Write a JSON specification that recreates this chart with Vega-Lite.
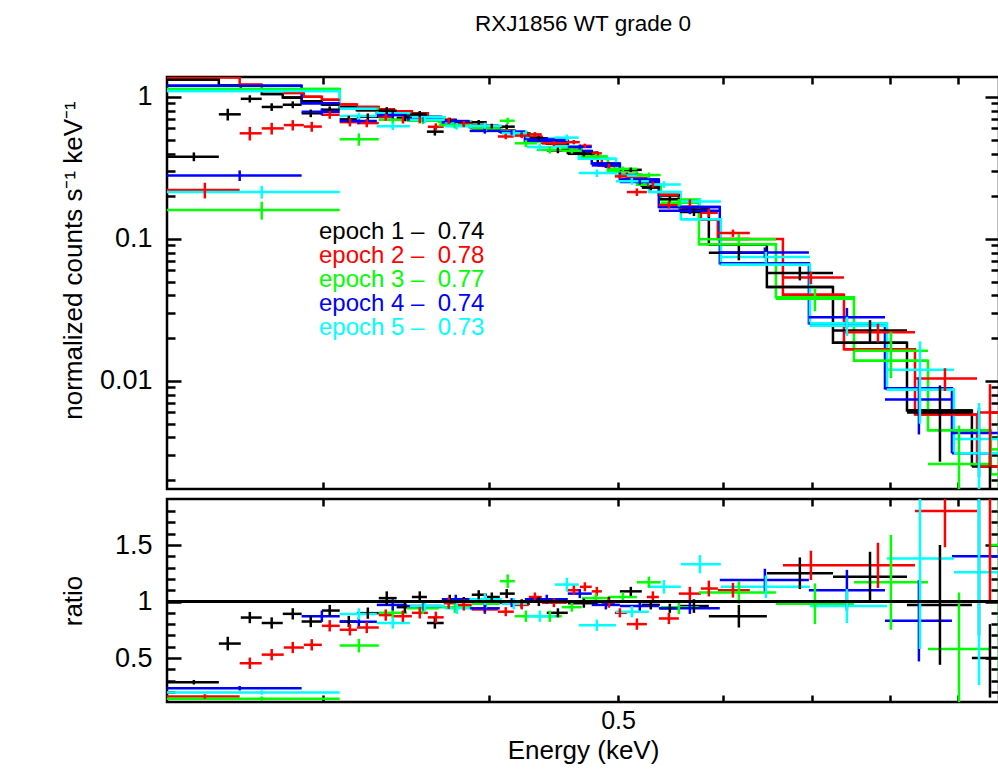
{
"$schema": "https://vega.github.io/schema/vega-lite/v6.json",
"background": "white",
"padding": {"left": 58, "top": 13, "right": 0, "bottom": 0},
"title": {"text": "RXJ1856 WT grade 0", "fontSize": 22.5, "font": "Liberation Sans", "fontWeight": "normal", "color": "black", "anchor": "middle", "frame": "group", "offset": 39},
"spacing": 0,
"resolve": {"scale": {"color": "independent"}, "legend": {"color": "independent"}},
"datasets": {"spec": [
{"ep":"epoch 1","lo":0.2291,"hi":0.2506,"e":0.2400,"m":1.33,"y":0.380,"y1":0.353,"y2":0.407,"r":0.286,"r1":0.266,"r2":0.306},
{"ep":"epoch 1","lo":0.2506,"hi":0.2603,"e":0.2545,"m":1.202,"y":0.755,"y1":0.683,"y2":0.827,"r":0.628,"r1":0.568,"r2":0.688},
{"ep":"epoch 1","lo":0.2603,"hi":0.2699,"e":0.2644,"m":1.132,"y":0.971,"y1":0.914,"y2":1.028,"r":0.858,"r1":0.808,"r2":0.908},
{"ep":"epoch 1","lo":0.2699,"hi":0.2799,"e":0.2746,"m":1.05,"y":0.851,"y1":0.798,"y2":0.903,"r":0.81,"r1":0.76,"r2":0.86},
{"ep":"epoch 1","lo":0.2799,"hi":0.2892,"e":0.2848,"m":0.99,"y":0.882,"y1":0.833,"y2":0.932,"r":0.891,"r1":0.841,"r2":0.941},
{"ep":"epoch 1","lo":0.2892,"hi":0.2995,"e":0.2938,"m":0.933,"y":0.768,"y1":0.721,"y2":0.815,"r":0.823,"r1":0.773,"r2":0.873},
{"ep":"epoch 1","lo":0.2995,"hi":0.3089,"e":0.3036,"m":0.885,"y":0.814,"y1":0.770,"y2":0.858,"r":0.92,"r1":0.87,"r2":0.97},
{"ep":"epoch 1","lo":0.3089,"hi":0.3182,"e":0.3138,"m":0.846,"y":0.696,"y1":0.654,"y2":0.738,"r":0.823,"r1":0.773,"r2":0.873},
{"ep":"epoch 1","lo":0.3182,"hi":0.3305,"e":0.3243,"m":0.808,"y":0.725,"y1":0.685,"y2":0.765,"r":0.897,"r1":0.847,"r2":0.947},
{"ep":"epoch 1","lo":0.3305,"hi":0.3409,"e":0.3351,"m":0.778,"y":0.801,"y1":0.754,"y2":0.848,"r":1.03,"r1":0.97,"r2":1.09},
{"ep":"epoch 1","lo":0.3409,"hi":0.3500,"e":0.3458,"m":0.75,"y":0.713,"y1":0.675,"y2":0.75,"r":0.95,"r1":0.90,"r2":1.0},
{"ep":"epoch 1","lo":0.3500,"hi":0.3592,"e":0.3548,"m":0.73,"y":0.759,"y1":0.722,"y2":0.796,"r":1.04,"r1":0.99,"r2":1.09},
{"ep":"epoch 1","lo":0.3592,"hi":0.3698,"e":0.3642,"m":0.704,"y":0.570,"y1":0.535,"y2":0.605,"r":0.81,"r1":0.76,"r2":0.86},
{"ep":"epoch 1","lo":0.3698,"hi":0.3783,"e":0.3737,"m":0.674,"y":0.687,"y1":0.66,"y2":0.714,"r":1.02,"r1":0.98,"r2":1.06},
{"ep":"epoch 1","lo":0.3783,"hi":0.3882,"e":0.3829,"m":0.653,"y":0.653,"y1":0.627,"y2":0.679,"r":1.0,"r1":0.96,"r2":1.04},
{"ep":"epoch 1","lo":0.3882,"hi":0.3984,"e":0.3929,"m":0.626,"y":0.664,"y1":0.639,"y2":0.689,"r":1.06,"r1":1.02,"r2":1.10},
{"ep":"epoch 1","lo":0.3984,"hi":0.4075,"e":0.4019,"m":0.60,"y":0.624,"y1":0.60,"y2":0.648,"r":1.04,"r1":1.0,"r2":1.08},
{"ep":"epoch 1","lo":0.4075,"hi":0.4182,"e":0.4124,"m":0.578,"y":0.618,"y1":0.595,"y2":0.641,"r":1.07,"r1":1.03,"r2":1.11},
{"ep":"epoch 1","lo":0.4182,"hi":0.4292,"e":0.4233,"m":0.552,"y":0.541,"y1":0.519,"y2":0.563,"r":0.98,"r1":0.94,"r2":1.02},
{"ep":"epoch 1","lo":0.4292,"hi":0.4420,"e":0.4360,"m":0.512,"y":0.512,"y1":0.492,"y2":0.532,"r":1.0,"r1":0.96,"r2":1.04},
{"ep":"epoch 1","lo":0.4420,"hi":0.4584,"e":0.4506,"m":0.468,"y":0.421,"y1":0.402,"y2":0.44,"r":0.9,"r1":0.86,"r2":0.94},
{"ep":"epoch 1","lo":0.4584,"hi":0.4828,"e":0.4713,"m":0.404,"y":0.398,"y1":0.382,"y2":0.414,"r":0.985,"r1":0.945,"r2":1.025},
{"ep":"epoch 1","lo":0.4828,"hi":0.5016,"e":0.4922,"m":0.332,"y":0.332,"y1":0.319,"y2":0.345,"r":1.0,"r1":0.96,"r2":1.04},
{"ep":"epoch 1","lo":0.5016,"hi":0.5210,"e":0.5112,"m":0.282,"y":0.307,"y1":0.296,"y2":0.318,"r":1.09,"r1":1.05,"r2":1.13},
{"ep":"epoch 1","lo":0.5210,"hi":0.5375,"e":0.5292,"m":0.237,"y":0.230,"y1":0.2205,"y2":0.2395,"r":0.97,"r1":0.93,"r2":1.01},
{"ep":"epoch 1","lo":0.5375,"hi":0.5565,"e":0.5469,"m":0.203,"y":0.191,"y1":0.183,"y2":0.199,"r":0.94,"r1":0.90,"r2":0.98},
{"ep":"epoch 1","lo":0.5565,"hi":0.5851,"e":0.5702,"m":0.161,"y":0.155,"y1":0.145,"y2":0.164,"r":0.96,"r1":0.90,"r2":1.02},
{"ep":"epoch 1","lo":0.5851,"hi":0.6469,"e":0.6163,"m":0.092,"y":0.080,"y1":0.0708,"y2":0.0892,"r":0.87,"r1":0.77,"r2":0.97},
{"ep":"epoch 1","lo":0.6469,"hi":0.7253,"e":0.6849,"m":0.046,"y":0.0575,"y1":0.0511,"y2":0.0639,"r":1.25,"r1":1.11,"r2":1.39},
{"ep":"epoch 1","lo":0.7253,"hi":0.8244,"e":0.7733,"m":0.0186,"y":0.0227,"y1":0.0186,"y2":0.0268,"r":1.22,"r1":1.0,"r2":1.44},
{"ep":"epoch 1","lo":0.8244,"hi":0.9224,"e":0.8728,"m":0.0062,"y":0.0060,"y1":0.0027,"y2":0.0093,"r":0.97,"r1":0.44,"r2":1.5},
{"ep":"epoch 1","lo":0.9224,"hi":0.9853,"e":0.9517,"m":0.0025,"y":0.0016,"y1":0.0005,"y2":0.0030,"r":0.5,"r1":0.15,"r2":0.8},
{"ep":"epoch 2","lo":0.2291,"hi":0.2598,"e":0.2446,"m":1.38,"y":0.221,"y1":0.193,"y2":0.249,"r":0.16,"r1":0.14,"r2":0.18},
{"ep":"epoch 2","lo":0.2598,"hi":0.2699,"e":0.2644,"m":1.222,"y":0.555,"y1":0.494,"y2":0.616,"r":0.454,"r1":0.404,"r2":0.504},
{"ep":"epoch 2","lo":0.2699,"hi":0.2804,"e":0.2746,"m":1.134,"y":0.601,"y1":0.544,"y2":0.658,"r":0.53,"r1":0.48,"r2":0.58},
{"ep":"epoch 2","lo":0.2804,"hi":0.2903,"e":0.2848,"m":1.069,"y":0.634,"y1":0.581,"y2":0.687,"r":0.593,"r1":0.543,"r2":0.643},
{"ep":"epoch 2","lo":0.2903,"hi":0.2995,"e":0.2943,"m":1.004,"y":0.619,"y1":0.569,"y2":0.669,"r":0.617,"r1":0.567,"r2":0.667},
{"ep":"epoch 2","lo":0.2995,"hi":0.3089,"e":0.3036,"m":0.956,"y":0.750,"y1":0.702,"y2":0.798,"r":0.785,"r1":0.735,"r2":0.835},
{"ep":"epoch 2","lo":0.3089,"hi":0.3182,"e":0.3144,"m":0.886,"y":0.665,"y1":0.621,"y2":0.709,"r":0.75,"r1":0.70,"r2":0.80},
{"ep":"epoch 2","lo":0.3182,"hi":0.3305,"e":0.3237,"m":0.851,"y":0.655,"y1":0.612,"y2":0.698,"r":0.77,"r1":0.72,"r2":0.82},
{"ep":"epoch 2","lo":0.3305,"hi":0.3392,"e":0.3345,"m":0.819,"y":0.721,"y1":0.68,"y2":0.762,"r":0.88,"r1":0.83,"r2":0.93},
{"ep":"epoch 2","lo":0.3392,"hi":0.3500,"e":0.3446,"m":0.793,"y":0.690,"y1":0.65,"y2":0.73,"r":0.87,"r1":0.82,"r2":0.92},
{"ep":"epoch 2","lo":0.3500,"hi":0.3598,"e":0.3548,"m":0.767,"y":0.690,"y1":0.652,"y2":0.728,"r":0.9,"r1":0.85,"r2":0.95},
{"ep":"epoch 2","lo":0.3598,"hi":0.3698,"e":0.3648,"m":0.718,"y":0.617,"y1":0.581,"y2":0.653,"r":0.86,"r1":0.81,"r2":0.91},
{"ep":"epoch 2","lo":0.3698,"hi":0.3770,"e":0.3730,"m":0.690,"y":0.680,"y1":0.645,"y2":0.715,"r":0.985,"r1":0.935,"r2":1.035},
{"ep":"epoch 2","lo":0.3770,"hi":0.3882,"e":0.3829,"m":0.666,"y":0.646,"y1":0.613,"y2":0.679,"r":0.97,"r1":0.92,"r2":1.02},
{"ep":"epoch 2","lo":0.3882,"hi":0.4061,"e":0.3971,"m":0.628,"y":0.584,"y1":0.559,"y2":0.609,"r":0.93,"r1":0.89,"r2":0.97},
{"ep":"epoch 2","lo":0.4061,"hi":0.4175,"e":0.4117,"m":0.579,"y":0.527,"y1":0.504,"y2":0.55,"r":0.91,"r1":0.87,"r2":0.95},
{"ep":"epoch 2","lo":0.4175,"hi":0.4285,"e":0.4233,"m":0.552,"y":0.535,"y1":0.513,"y2":0.557,"r":0.97,"r1":0.93,"r2":1.01},
{"ep":"epoch 2","lo":0.4285,"hi":0.4382,"e":0.4330,"m":0.524,"y":0.545,"y1":0.524,"y2":0.566,"r":1.04,"r1":1.0,"r2":1.08},
{"ep":"epoch 2","lo":0.4382,"hi":0.4576,"e":0.4475,"m":0.476,"y":0.471,"y1":0.452,"y2":0.49,"r":0.99,"r1":0.95,"r2":1.03},
{"ep":"epoch 2","lo":0.4576,"hi":0.4680,"e":0.4632,"m":0.437,"y":0.481,"y1":0.464,"y2":0.498,"r":1.1,"r1":1.06,"r2":1.14},
{"ep":"epoch 2","lo":0.4680,"hi":0.4778,"e":0.4721,"m":0.401,"y":0.453,"y1":0.437,"y2":0.469,"r":1.13,"r1":1.09,"r2":1.17},
{"ep":"epoch 2","lo":0.4778,"hi":0.4862,"e":0.4820,"m":0.368,"y":0.401,"y1":0.386,"y2":0.416,"r":1.09,"r1":1.05,"r2":1.13},
{"ep":"epoch 2","lo":0.4862,"hi":0.4973,"e":0.4922,"m":0.332,"y":0.327,"y1":0.314,"y2":0.34,"r":0.985,"r1":0.945,"r2":1.025},
{"ep":"epoch 2","lo":0.4973,"hi":0.5077,"e":0.5016,"m":0.307,"y":0.276,"y1":0.264,"y2":0.288,"r":0.9,"r1":0.86,"r2":0.94},
{"ep":"epoch 2","lo":0.5077,"hi":0.5256,"e":0.5166,"m":0.268,"y":0.214,"y1":0.201,"y2":0.227,"r":0.8,"r1":0.75,"r2":0.85},
{"ep":"epoch 2","lo":0.5256,"hi":0.5366,"e":0.5311,"m":0.233,"y":0.242,"y1":0.23,"y2":0.254,"r":1.04,"r1":0.99,"r2":1.09},
{"ep":"epoch 2","lo":0.5366,"hi":0.5555,"e":0.5460,"m":0.205,"y":0.174,"y1":0.164,"y2":0.184,"r":0.85,"r1":0.80,"r2":0.90},
{"ep":"epoch 2","lo":0.5555,"hi":0.5771,"e":0.5662,"m":0.168,"y":0.180,"y1":0.17,"y2":0.19,"r":1.07,"r1":1.01,"r2":1.13},
{"ep":"epoch 2","lo":0.5771,"hi":0.5943,"e":0.5851,"m":0.137,"y":0.153,"y1":0.143,"y2":0.163,"r":1.115,"r1":1.045,"r2":1.185},
{"ep":"epoch 2","lo":0.5943,"hi":0.6281,"e":0.6100,"m":0.10,"y":0.110,"y1":0.1035,"y2":0.1165,"r":1.1,"r1":1.035,"r2":1.165},
{"ep":"epoch 2","lo":0.6651,"hi":0.7392,"e":0.6981,"m":0.0405,"y":0.0535,"y1":0.0482,"y2":0.0588,"r":1.32,"r1":1.19,"r2":1.45},
{"ep":"epoch 2","lo":0.7392,"hi":0.8359,"e":0.7840,"m":0.0167,"y":0.0220,"y1":0.0187,"y2":0.0253,"r":1.32,"r1":1.12,"r2":1.52},
{"ep":"epoch 2","lo":0.8359,"hi":0.9306,"e":0.8804,"m":0.0058,"y":0.0104,"y1":0.0085,"y2":0.0123,"r":1.8,"r1":1.48,"r2":2.12},
{"ep":"epoch 2","lo":0.9306,"hi":0.9802,"e":0.9517,"m":0.0025,"y":0.006,"y1":0.0025,"y2":0.0095,"r":2.4,"r1":1.0,"r2":3.8},
{"ep":"epoch 3","lo":0.2291,"hi":0.3089,"e":0.2699,"m":1.14,"y":0.160,"y1":0.137,"y2":0.183,"r":0.14,"r1":0.12,"r2":0.16},
{"ep":"epoch 3","lo":0.3089,"hi":0.3305,"e":0.3193,"m":0.826,"y":0.504,"y1":0.454,"y2":0.554,"r":0.61,"r1":0.55,"r2":0.67},
{"ep":"epoch 3","lo":0.3305,"hi":0.3470,"e":0.3386,"m":0.768,"y":0.691,"y1":0.653,"y2":0.729,"r":0.9,"r1":0.85,"r2":0.95},
{"ep":"epoch 3","lo":0.3470,"hi":0.3667,"e":0.3567,"m":0.724,"y":0.681,"y1":0.645,"y2":0.717,"r":0.94,"r1":0.89,"r2":0.99},
{"ep":"epoch 3","lo":0.3667,"hi":0.3882,"e":0.3770,"m":0.666,"y":0.633,"y1":0.6,"y2":0.666,"r":0.95,"r1":0.90,"r2":1.0},
{"ep":"epoch 3","lo":0.3882,"hi":0.4075,"e":0.3978,"m":0.612,"y":0.600,"y1":0.576,"y2":0.624,"r":0.98,"r1":0.94,"r2":1.02},
{"ep":"epoch 3","lo":0.4075,"hi":0.4182,"e":0.4131,"m":0.576,"y":0.680,"y1":0.645,"y2":0.715,"r":1.18,"r1":1.12,"r2":1.24},
{"ep":"epoch 3","lo":0.4182,"hi":0.4345,"e":0.4263,"m":0.542,"y":0.472,"y1":0.445,"y2":0.499,"r":0.87,"r1":0.82,"r2":0.92},
{"ep":"epoch 3","lo":0.4345,"hi":0.4537,"e":0.4443,"m":0.487,"y":0.424,"y1":0.4,"y2":0.448,"r":0.87,"r1":0.82,"r2":0.92},
{"ep":"epoch 3","lo":0.4537,"hi":0.4696,"e":0.4616,"m":0.44,"y":0.418,"y1":0.4,"y2":0.436,"r":0.95,"r1":0.91,"r2":0.99},
{"ep":"epoch 3","lo":0.4696,"hi":0.4913,"e":0.4812,"m":0.371,"y":0.382,"y1":0.367,"y2":0.397,"r":1.03,"r1":0.99,"r2":1.07},
{"ep":"epoch 3","lo":0.4913,"hi":0.5166,"e":0.5042,"m":0.30,"y":0.312,"y1":0.3,"y2":0.324,"r":1.04,"r1":1.0,"r2":1.08},
{"ep":"epoch 3","lo":0.5166,"hi":0.5384,"e":0.5274,"m":0.241,"y":0.282,"y1":0.27,"y2":0.294,"r":1.17,"r1":1.12,"r2":1.22},
{"ep":"epoch 3","lo":0.5384,"hi":0.5751,"e":0.5555,"m":0.189,"y":0.180,"y1":0.169,"y2":0.191,"r":0.95,"r1":0.89,"r2":1.01},
{"ep":"epoch 3","lo":0.5751,"hi":0.6571,"e":0.6163,"m":0.092,"y":0.0994,"y1":0.0902,"y2":0.1086,"r":1.08,"r1":0.98,"r2":1.18},
{"ep":"epoch 3","lo":0.6571,"hi":0.7521,"e":0.7030,"m":0.0388,"y":0.038,"y1":0.031,"y2":0.045,"r":0.98,"r1":0.80,"r2":1.16},
{"ep":"epoch 3","lo":0.7521,"hi":0.8549,"e":0.8018,"m":0.0139,"y":0.0163,"y1":0.0105,"y2":0.0221,"r":1.17,"r1":0.75,"r2":1.59},
{"ep":"epoch 3","lo":0.8549,"hi":0.9533,"e":0.9020,"m":0.0045,"y":0.0026,"y1":0.00035,"y2":0.00485,"r":0.58,"r1":0.08,"r2":1.08},
{"ep":"epoch 3","lo":0.9533,"hi":0.9887,"e":0.9667,"m":0.0022,"y":0.0033,"y1":0.0007,"y2":0.0059,"r":1.5,"r1":0.3,"r2":2.7},
{"ep":"epoch 4","lo":0.2291,"hi":0.2892,"e":0.2598,"m":1.2,"y":0.280,"y1":0.256,"y2":0.304,"r":0.233,"r1":0.213,"r2":0.253},
{"ep":"epoch 4","lo":0.2892,"hi":0.3089,"e":0.2995,"m":0.905,"y":0.787,"y1":0.742,"y2":0.832,"r":0.87,"r1":0.82,"r2":0.92},
{"ep":"epoch 4","lo":0.3089,"hi":0.3294,"e":0.3193,"m":0.826,"y":0.677,"y1":0.644,"y2":0.71,"r":0.82,"r1":0.78,"r2":0.86},
{"ep":"epoch 4","lo":0.3294,"hi":0.3470,"e":0.3386,"m":0.768,"y":0.745,"y1":0.707,"y2":0.783,"r":0.97,"r1":0.92,"r2":1.02},
{"ep":"epoch 4","lo":0.3470,"hi":0.3686,"e":0.3573,"m":0.722,"y":0.693,"y1":0.664,"y2":0.722,"r":0.96,"r1":0.92,"r2":1.0},
{"ep":"epoch 4","lo":0.3686,"hi":0.3868,"e":0.3776,"m":0.664,"y":0.677,"y1":0.65,"y2":0.704,"r":1.02,"r1":0.98,"r2":1.06},
{"ep":"epoch 4","lo":0.3868,"hi":0.4075,"e":0.3971,"m":0.614,"y":0.577,"y1":0.552,"y2":0.602,"r":0.94,"r1":0.90,"r2":0.98},
{"ep":"epoch 4","lo":0.4075,"hi":0.4256,"e":0.4160,"m":0.57,"y":0.564,"y1":0.541,"y2":0.587,"r":0.99,"r1":0.95,"r2":1.03},
{"ep":"epoch 4","lo":0.4256,"hi":0.4584,"e":0.4420,"m":0.492,"y":0.502,"y1":0.482,"y2":0.522,"r":1.02,"r1":0.98,"r2":1.06},
{"ep":"epoch 4","lo":0.4584,"hi":0.4778,"e":0.4680,"m":0.416,"y":0.445,"y1":0.428,"y2":0.462,"r":1.07,"r1":1.03,"r2":1.11},
{"ep":"epoch 4","lo":0.4778,"hi":0.5016,"e":0.4896,"m":0.34,"y":0.330,"y1":0.316,"y2":0.344,"r":0.97,"r1":0.93,"r2":1.01},
{"ep":"epoch 4","lo":0.5016,"hi":0.5366,"e":0.5192,"m":0.262,"y":0.2515,"y1":0.241,"y2":0.262,"r":0.96,"r1":0.92,"r2":1.0},
{"ep":"epoch 4","lo":0.5366,"hi":0.5963,"e":0.5662,"m":0.168,"y":0.158,"y1":0.1496,"y2":0.1664,"r":0.94,"r1":0.89,"r2":0.99},
{"ep":"epoch 4","lo":0.5963,"hi":0.6957,"e":0.6447,"m":0.0676,"y":0.0804,"y1":0.0736,"y2":0.0872,"r":1.19,"r1":1.09,"r2":1.29},
{"ep":"epoch 4","lo":0.6957,"hi":0.7936,"e":0.7430,"m":0.0255,"y":0.0281,"y1":0.0235,"y2":0.0327,"r":1.1,"r1":0.92,"r2":1.28},
{"ep":"epoch 4","lo":0.7936,"hi":0.8911,"e":0.8416,"m":0.0089,"y":0.0074,"y1":0.0042,"y2":0.0106,"r":0.83,"r1":0.47,"r2":1.19},
{"ep":"epoch 4","lo":0.8911,"hi":0.9802,"e":0.9338,"m":0.0031,"y":0.0043,"y1":0.0021,"y2":0.0065,"r":1.4,"r1":0.7,"r2":2.1},
{"ep":"epoch 5","lo":0.2291,"hi":0.3089,"e":0.2699,"m":1.10,"y":0.2145,"y1":0.1925,"y2":0.2365,"r":0.195,"r1":0.175,"r2":0.215},
{"ep":"epoch 5","lo":0.3089,"hi":0.3294,"e":0.3193,"m":0.826,"y":0.735,"y1":0.694,"y2":0.776,"r":0.89,"r1":0.84,"r2":0.94},
{"ep":"epoch 5","lo":0.3294,"hi":0.3488,"e":0.3386,"m":0.768,"y":0.622,"y1":0.584,"y2":0.66,"r":0.81,"r1":0.76,"r2":0.86},
{"ep":"epoch 5","lo":0.3488,"hi":0.3705,"e":0.3579,"m":0.72,"y":0.691,"y1":0.655,"y2":0.727,"r":0.96,"r1":0.91,"r2":1.01},
{"ep":"epoch 5","lo":0.3705,"hi":0.3868,"e":0.3783,"m":0.662,"y":0.622,"y1":0.589,"y2":0.655,"r":0.94,"r1":0.89,"r2":0.99},
{"ep":"epoch 5","lo":0.3868,"hi":0.4089,"e":0.3971,"m":0.616,"y":0.628,"y1":0.597,"y2":0.659,"r":1.02,"r1":0.97,"r2":1.07},
{"ep":"epoch 5","lo":0.4089,"hi":0.4270,"e":0.4175,"m":0.566,"y":0.555,"y1":0.527,"y2":0.583,"r":0.98,"r1":0.93,"r2":1.03},
{"ep":"epoch 5","lo":0.4270,"hi":0.4482,"e":0.4367,"m":0.51,"y":0.444,"y1":0.418,"y2":0.47,"r":0.87,"r1":0.82,"r2":0.92},
{"ep":"epoch 5","lo":0.4482,"hi":0.4672,"e":0.4576,"m":0.45,"y":0.5175,"y1":0.4905,"y2":0.5445,"r":1.15,"r1":1.09,"r2":1.21},
{"ep":"epoch 5","lo":0.4672,"hi":0.4982,"e":0.4820,"m":0.368,"y":0.291,"y1":0.273,"y2":0.309,"r":0.79,"r1":0.74,"r2":0.84},
{"ep":"epoch 5","lo":0.4982,"hi":0.5274,"e":0.5121,"m":0.28,"y":0.255,"y1":0.241,"y2":0.269,"r":0.91,"r1":0.86,"r2":0.96},
{"ep":"epoch 5","lo":0.5274,"hi":0.5574,"e":0.5413,"m":0.214,"y":0.242,"y1":0.229,"y2":0.255,"r":1.13,"r1":1.07,"r2":1.19},
{"ep":"epoch 5","lo":0.5574,"hi":0.5974,"e":0.5761,"m":0.138,"y":0.1835,"y1":0.1725,"y2":0.1945,"r":1.33,"r1":1.25,"r2":1.41},
{"ep":"epoch 5","lo":0.5974,"hi":0.6969,"e":0.6458,"m":0.066,"y":0.0746,"y1":0.068,"y2":0.0812,"r":1.13,"r1":1.03,"r2":1.23},
{"ep":"epoch 5","lo":0.6969,"hi":0.7964,"e":0.7430,"m":0.0255,"y":0.0245,"y1":0.0207,"y2":0.0283,"r":0.96,"r1":0.81,"r2":1.11},
{"ep":"epoch 5","lo":0.7964,"hi":0.8942,"e":0.8431,"m":0.0087,"y":0.0120,"y1":0.005,"y2":0.019,"r":1.38,"r1":0.58,"r2":2.18},
{"ep":"epoch 5","lo":0.8942,"hi":0.9802,"e":0.9338,"m":0.0031,"y":0.0039,"y1":0.0008,"y2":0.007,"r":1.26,"r1":0.26,"r2":2.26}
]},
"vconcat": [
{
 "width": 832, "height": 412,
 "data": {"name": "spec"},
 "encoding": {
  "color": {"field": "ep", "type": "nominal",
   "scale": {"domain": ["epoch 1","epoch 2","epoch 3","epoch 4","epoch 5"], "range": ["#000000","#ff0000","#00ff00","#0000ff","#00ffff"]},
   "legend": {"title": null, "orient": "none", "legendX": 128, "legendY": 143, "padding": 0,
    "symbolSize": 0, "symbolOpacity": 0, "symbolStrokeWidth": 0, "labelOffset": 0, "rowPadding": 0,
    "labelFontSize": 24, "labelFont": "Liberation Sans", "labelLimit": 400,
    "labelExpr": "datum.label + ' –\u00a0\u00a0' + (datum.label == 'epoch 1' ? '0.74' : datum.label == 'epoch 2' ? '0.78' : datum.label == 'epoch 3' ? '0.77' : datum.label == 'epoch 4' ? '0.74' : '0.73')",
    "labelColor": {"expr": "datum.value == 'epoch 1' ? '#000000' : datum.value == 'epoch 2' ? '#ff0000' : datum.value == 'epoch 3' ? '#00ff00' : datum.value == 'epoch 4' ? '#0000ff' : '#00ffff'"}}
  }
 },
 "layer": [
  {"mark": {"type": "line", "interpolate": "step-after", "strokeWidth": 2.5, "clip": true},
   "encoding": {
    "x": {"field": "lo", "type": "quantitative", "scale": {"type": "log", "domain": [0.2291, 0.9667], "nice": false},
      "axis": {"orient": "bottom", "values": [0.3,0.4,0.5,0.6,0.7,0.8,0.9], "labels": false, "title": null, "tickSize": -7, "minExtent": 0, "maxExtent": 0}},
    "y": {"field": "m", "type": "quantitative", "scale": {"type": "log", "domain": [0.001735, 1.383], "nice": false},
      "axis": {"orient": "left", "values": [0.002,0.003,0.004,0.005,0.006,0.007,0.008,0.009,0.01,0.02,0.03,0.04,0.05,0.06,0.07,0.08,0.09,0.1,0.2,0.3,0.4,0.5,0.6,0.7,0.8,0.9,1],
       "format": "~g", "labelExpr": "indexof([0.01,0.1,1], datum.value) >= 0 ? datum.label : ''",
       "tickSize": {"condition": {"test": "indexof([0.01,0.1,1], datum.value) >= 0", "value": -14}, "value": -8},
       "labelPadding": 29, "labelFontSize": 27, "title": "normalized counts s⁻¹ keV⁻¹", "titlePadding": 0, "titleBaseline": "alphabetic", "titleY": 183, "minExtent": 86, "maxExtent": 86}}
   }},
  {"mark": {"type": "rule", "strokeWidth": 2.5, "clip": true},
   "encoding": {
    "x": {"field": "lo", "type": "quantitative", "axis": {"orient": "top", "values": [0.3,0.4,0.5,0.6,0.7,0.8,0.9], "labels": false, "title": null, "tickSize": -7, "minExtent": 0, "maxExtent": 0}},
    "x2": {"field": "hi"},
    "y": {"field": "m", "type": "quantitative", "axis": {"orient": "right", "values": [0.002,0.003,0.004,0.005,0.006,0.007,0.008,0.009,0.01,0.02,0.03,0.04,0.05,0.06,0.07,0.08,0.09,0.1,0.2,0.3,0.4,0.5,0.6,0.7,0.8,0.9,1], "labels": false, "title": null, "minExtent": 0, "maxExtent": 0,
       "tickSize": {"condition": {"test": "indexof([0.01,0.1,1], datum.value) >= 0", "value": -14}, "value": -8}}}
   }},
  {"mark": {"type": "rule", "strokeWidth": 2.5, "clip": true},
   "encoding": {
    "x": {"field": "lo", "type": "quantitative", "axis": null},
    "x2": {"field": "hi"},
    "y": {"field": "y", "type": "quantitative", "axis": null}
   }},
  {"mark": {"type": "rule", "strokeWidth": 2.5, "clip": true},
   "encoding": {
    "x": {"field": "e", "type": "quantitative", "axis": null},
    "y": {"field": "y1", "type": "quantitative", "axis": null},
    "y2": {"field": "y2"}
   }}
 ],
 "resolve": {"axis": {"x": "independent", "y": "independent"}}
},
{
 "width": 832, "height": 203,
 "data": {"name": "spec"},
 "layer": [
  {"mark": {"type": "rule", "strokeWidth": 2.5, "clip": true},
   "encoding": {
    "color": {"field": "ep", "type": "nominal", "scale": {"domain": ["epoch 1","epoch 2","epoch 3","epoch 4","epoch 5"], "range": ["#000000","#ff0000","#00ff00","#0000ff","#00ffff"]}, "legend": null},
    "x": {"field": "lo", "type": "quantitative", "scale": {"type": "log", "domain": [0.2291, 0.9667], "nice": false},
      "axis": {"orient": "bottom", "values": [0.3,0.4,0.5,0.6,0.7,0.8,0.9], "format": "~g", "labelExpr": "datum.value == 0.5 ? '0.5' : ''", "tickSize": -7, "labelPadding": 13, "title": "Energy (keV)", "titlePadding": 4}},
    "x2": {"field": "hi"},
    "y": {"field": "r", "type": "quantitative", "scale": {"type": "linear", "domain": [0.111, 1.907], "nice": false, "zero": false},
      "axis": {"orient": "left", "values": [0.2,0.3,0.4,0.5,0.6,0.7,0.8,0.9,1,1.1,1.2,1.3,1.4,1.5,1.6,1.7,1.8],
       "format": "~g", "labelExpr": "indexof([0.5,1,1.5], datum.value) >= 0 ? datum.label : ''",
       "tickSize": {"condition": {"test": "indexof([0.5,1,1.5], datum.value) >= 0", "value": -14}, "value": -8},
       "labelPadding": 29, "labelFontSize": 27, "title": "ratio", "titlePadding": 0, "titleBaseline": "alphabetic", "minExtent": 86, "maxExtent": 86}}
   }},
  {"mark": {"type": "rule", "strokeWidth": 2.5, "clip": true},
   "encoding": {
    "color": {"field": "ep", "type": "nominal", "legend": null},
    "x": {"field": "e", "type": "quantitative", "axis": {"orient": "top", "values": [0.3,0.4,0.5,0.6,0.7,0.8,0.9], "labels": false, "title": null, "tickSize": -7, "minExtent": 0, "maxExtent": 0}},
    "y": {"field": "r1", "type": "quantitative", "axis": {"orient": "right", "values": [0.2,0.3,0.4,0.5,0.6,0.7,0.8,0.9,1,1.1,1.2,1.3,1.4,1.5,1.6,1.7,1.8], "labels": false, "title": null, "minExtent": 0, "maxExtent": 0,
       "tickSize": {"condition": {"test": "indexof([0.5,1,1.5], datum.value) >= 0", "value": -14}, "value": -8}}},
    "y2": {"field": "r2"}
   }},
  {"mark": {"type": "rule", "color": "black", "strokeWidth": 2.5},
   "encoding": {"y": {"datum": 1, "type": "quantitative", "axis": null}}}
 ],
 "resolve": {"axis": {"x": "independent", "y": "independent"}}
}
],
"config": {
 "font": "Liberation Sans",
 "view": {"stroke": "black", "strokeWidth": 2.5},
 "axis": {"domain": false, "grid": false, "tickColor": "black", "tickWidth": 2.5, "labelColor": "black", "labelFont": "Liberation Sans", "labelFontSize": 25, "titleFont": "Liberation Sans", "titleFontSize": 26, "titleFontWeight": "normal", "titleColor": "black", "labelFlush": false, "labelOverlap": false, "labelBound": false}
}
}
